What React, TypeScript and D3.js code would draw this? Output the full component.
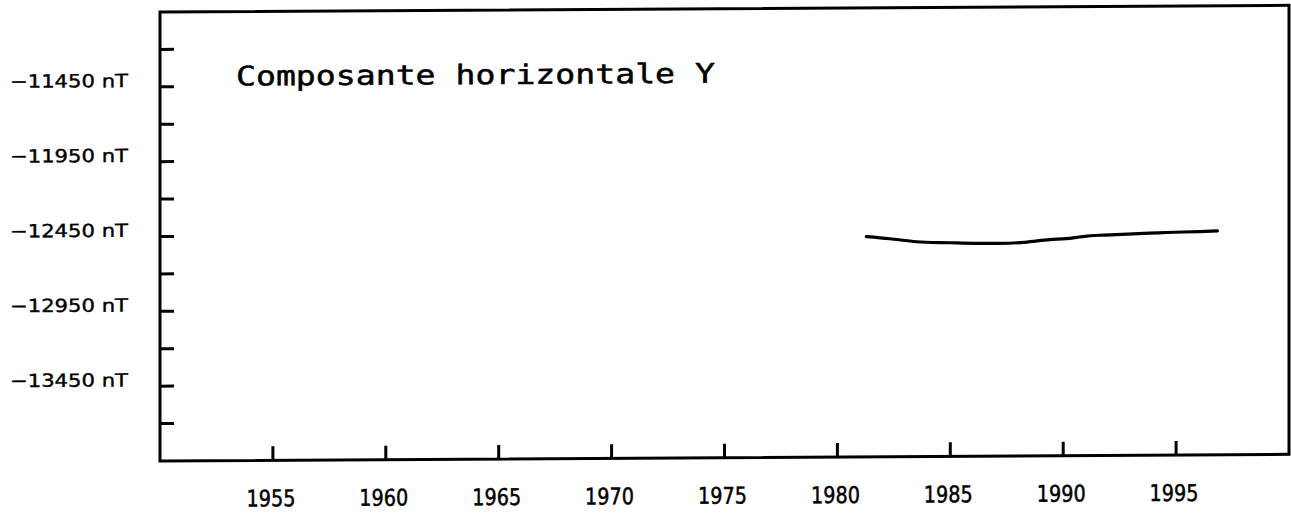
import React from 'react'
import * as d3 from 'd3'

// série observée, composante Y (nT)
const years = [1981.28, 1982.32, 1983.5, 1984.97, 1986.08, 1987.18, 1988.29, 1989.4, 1990.14, 1990.86, 1991.61, 1992.35, 1993.82, 1994.56, 1996.04, 1996.83]
const values = [-12479, -12494, -12515, -12523, -12528, -12529, -12523, -12506, -12500, -12487, -12479, -12475, -12467, -12463, -12458, -12454]

const xTicks = [1955, 1960, 1965, 1970, 1975, 1980, 1985, 1990, 1995]
const yTicks = [-11200, -11450, -11700, -11950, -12200, -12450, -12700, -12950, -13200, -13450, -13700]
const yLabels = [-11450, -11950, -12450, -12950, -13450]
const title = 'Composante horizontale Y'

const W = 1291
const H = 513
const MONO = '"DejaVu Sans Mono", monospace'
const SANS = '"DejaVu Sans", sans-serif'

export default function App() {
  const margin = { left: 160, right: 2, top: 12, bottom: 52 }
  const x = d3.scaleLinear().domain([1950, 2000]).range([margin.left, W - margin.right])
  const y = d3.scaleLinear().domain([-13950, -10950]).range([H - margin.bottom, margin.top])

  const pts = years.map((yr, i) => [yr, values[i]] as [number, number])
  const line = d3.line<[number, number]>()
    .x(d => x(d[0]))
    .y(d => y(d[1]))
    .curve(d3.curveMonotoneX)

  const x0 = x(1950), x1 = x(2000)
  const yTop = y(-10950), yBot = y(-13950)
  const tick = 14

  return (
    <svg width={W} height={H} style={{ position: 'absolute', left: 0, top: 0, background: '#fff' }}>
      {/* the scan is slightly skewed */}
      <g transform={`translate(${x0},0) skewY(-0.34) translate(${-x0},0)`}>
        <rect x={x0} y={yTop} width={x1 - x0} height={yBot - yTop}
          fill="none" stroke="#000" strokeWidth={3} />

        {yTicks.map(v => (
          <line key={v} x1={x0} x2={x0 + tick} y1={y(v)} y2={y(v)} stroke="#000" strokeWidth={3} />
        ))}
        {yLabels.map(v => (
          <text key={v} x={10} y={y(v)} fontFamily={SANS} fontSize={18}
            textLength={118} lengthAdjust="spacingAndGlyphs" fill="#000" stroke="#000" strokeWidth={0.4}>
            {`\u2212${Math.abs(v)} nT`}
          </text>
        ))}

        {xTicks.map(t => (
          <line key={t} x1={x(t)} x2={x(t)} y1={yBot} y2={yBot - tick} stroke="#000" strokeWidth={3} />
        ))}
        {xTicks.map(t => (
          <text key={t} x={x(t) - 2} y={yBot + 46} textAnchor="middle" fontFamily={SANS} fontSize={23}
            textLength={49} lengthAdjust="spacingAndGlyphs" fill="#000" stroke="#000" strokeWidth={0.5}>
            {t}
          </text>
        ))}

        <text x={236} y={86} fontFamily={MONO} fontSize={27}
          textLength={479} lengthAdjust="spacingAndGlyphs" fill="#000" stroke="#000" strokeWidth={0.5}>
          {title}
        </text>

        <path d={line(pts) ?? ''} fill="none" stroke="#000" strokeWidth={3.2}
          strokeLinecap="round" strokeLinejoin="round" />
      </g>
    </svg>
  )
}
